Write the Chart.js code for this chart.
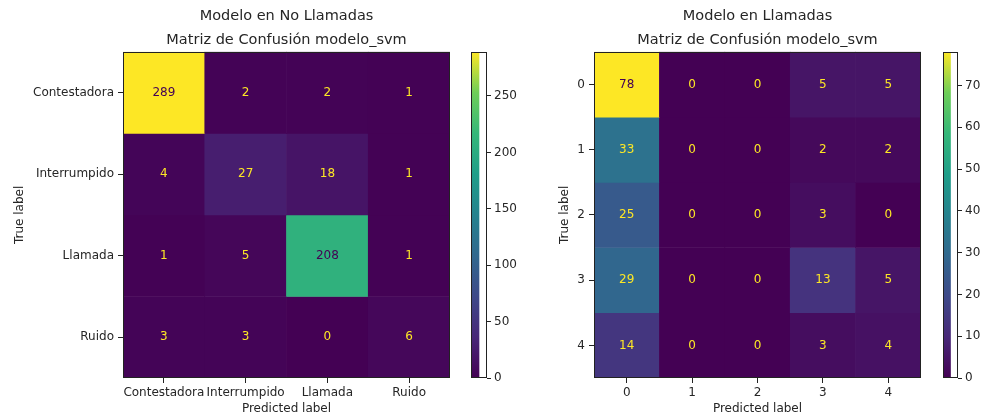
<!DOCTYPE html>
<html>
<head>
<meta charset="UTF-8">
<title>Matriz de Confusión</title>
<script src="https://cdn.jsdelivr.net/npm/chart.js"></script>
<style>
  html, body { margin: 0; padding: 0; background: #fff; }
  body { width: 984px; height: 416px; position: relative; overflow: hidden; }
  .box { position: absolute; top: 0; height: 416px; }
</style>
</head>
<body>
  <div class="box" style="left:0;width:460px"><canvas id="cmLeft"></canvas></div>
  <div class="box" style="left:460px;width:80px"><canvas id="cbLeft"></canvas></div>
  <div class="box" style="left:540px;width:390px"><canvas id="cmRight"></canvas></div>
  <div class="box" style="left:930px;width:54px"><canvas id="cbRight"></canvas></div>

<script>
// datos de las dos matrices
const clasesNoLlamadas = ['Contestadora', 'Interrumpido', 'Llamada', 'Ruido'];
const matrizNoLlamadas = [
  [289, 2, 2, 1],
  [4, 27, 18, 1],
  [1, 5, 208, 1],
  [3, 3, 0, 6]
];
const ticksBarraNoLlamadas = [0, 50, 100, 150, 200, 250];

const clasesLlamadas = ['0', '1', '2', '3', '4'];
const matrizLlamadas = [
  [78, 0, 0, 5, 5],
  [33, 0, 0, 2, 2],
  [25, 0, 0, 3, 0],
  [29, 0, 0, 13, 5],
  [14, 0, 0, 3, 4]
];
const ticksBarraLlamadas = [0, 10, 20, 30, 40, 50, 60, 70];

const FONT = 'DejaVu Sans';
const TXT = '#262626';

// mapa de color viridis
const viridis = ['#440154', '#482878', '#3e4989', '#31688e', '#26828e', '#1f9e89', '#35b779', '#6ece58', '#fde725'];
function hexRgb(h) { return [1, 3, 5].map(i => parseInt(h.substr(i, 2), 16)); }
function colorViridis(t) {
  t = Math.max(0, Math.min(1, t));
  const p = t * (viridis.length - 1);
  const i = Math.min(Math.floor(p), viridis.length - 2);
  const f = p - i;
  const a = hexRgb(viridis[i]), b = hexRgb(viridis[i + 1]);
  const c = a.map((v, k) => Math.round(v + (b[k] - v) * f));
  return 'rgb(' + c.join(',') + ')';
}

// borde negro alrededor del área
const bordePlugin = {
  id: 'borde',
  afterDraw(chart) {
    const a = chart.chartArea, ctx = chart.ctx;
    ctx.save();
    ctx.strokeStyle = '#222';
    ctx.lineWidth = 1;
    ctx.strokeRect(Math.round(a.left) + 0.5, Math.round(a.top) + 0.5,
      Math.round(a.right - a.left) - 1, Math.round(a.bottom - a.top) - 1);
    ctx.restore();
  }
};

// números dentro de las celdas
const numerosPlugin = {
  id: 'numeros',
  afterDatasetsDraw(chart) {
    const m = chart.config.options.matriz;
    if (!m) return;
    const max = Math.max(...m.flat()), min = Math.min(...m.flat());
    const umbral = (max + min) / 2;
    const ctx = chart.ctx;
    ctx.save();
    ctx.font = '12px "' + FONT + '"';
    ctx.textAlign = 'center';
    ctx.textBaseline = 'middle';
    m.forEach((fila, i) => {
      fila.forEach((v, j) => {
        ctx.fillStyle = v < umbral ? viridis[viridis.length - 1] : viridis[0];
        ctx.fillText(String(v), chart.scales.x.getPixelForValue(j), chart.scales.y.getPixelForValue(i));
      });
    });
    ctx.restore();
  }
};

function matriz(id, clases, m, titulo, anchoY, padDer, padTituloY) {
  const max = Math.max(...m.flat());
  const datasets = m.map((fila, i) => ({
    data: fila.map(() => [i - 0.5, i + 0.5]),
    backgroundColor: fila.map(v => colorViridis(v / max)),
    borderWidth: 0,
    barPercentage: 1,
    categoryPercentage: 1
  }));
  return new Chart(document.getElementById(id), {
    type: 'bar',
    data: { labels: clases, datasets },
    options: {
      responsive: true,
      maintainAspectRatio: false,
      animation: false,
      matriz: m,
      layout: { padding: { right: padDer } },
      plugins: {
        legend: { display: false },
        tooltip: { enabled: false },
        title: {
          display: true,
          text: titulo,
          fullSize: false,
          color: TXT,
          font: { family: FONT, size: 14.5, weight: 'normal', lineHeight: 1.65 },
          padding: { top: 4, bottom: 0 }
        }
      },
      scales: {
        x: {
          stacked: true,
          offset: true,
          grid: { offset: false, drawOnChartArea: false, drawTicks: true, tickLength: 5, color: '#222' },
          border: { display: false },
          ticks: { color: TXT, font: { family: FONT, size: 12 }, padding: 3, maxRotation: 0, minRotation: 0, autoSkip: false },
          title: { display: true, text: 'Predicted label', color: TXT, font: { family: FONT, size: 12 }, padding: { top: 0, bottom: 0 } },
          afterFit(s) { s.height = 38; }
        },
        y: {
          type: 'linear',
          reverse: true,
          min: -0.5,
          max: clases.length - 0.5,
          afterBuildTicks(s) { s.ticks = clases.map((_, i) => ({ value: i })); },
          grid: { drawOnChartArea: false, drawTicks: true, tickLength: 5, color: '#222' },
          border: { display: false },
          ticks: { color: TXT, font: { family: FONT, size: 12 }, padding: 4, callback: v => clases[v] },
          title: { display: true, text: 'True label', color: TXT, font: { family: FONT, size: 12 }, padding: { top: padTituloY, bottom: 0 } },
          afterFit(s) { s.width = anchoY; }
        }
      }
    },
    plugins: [numerosPlugin, bordePlugin]
  });
}

function barraColor(id, m, ticks, padIzq, anchoY) {
  const max = Math.max(...m.flat());
  return new Chart(document.getElementById(id), {
    type: 'bar',
    data: {
      labels: [''],
      datasets: [{
        data: [[0, max]],
        borderWidth: 0,
        barPercentage: 1,
        categoryPercentage: 1,
        backgroundColor(c) {
          const a = c.chart.chartArea;
          if (!a) return viridis[0];
          const g = c.chart.ctx.createLinearGradient(0, a.bottom, 0, a.top);
          viridis.forEach((col, k) => g.addColorStop(k / (viridis.length - 1), col));
          return g;
        }
      }]
    },
    options: {
      responsive: true,
      maintainAspectRatio: false,
      animation: false,
      layout: { padding: { top: 52, bottom: 38, left: padIzq } },
      plugins: { legend: { display: false }, tooltip: { enabled: false } },
      scales: {
        x: { display: false, offset: false },
        y: {
          position: 'right',
          min: 0,
          max: max,
          afterBuildTicks(s) { s.ticks = ticks.map(v => ({ value: v })); },
          grid: { drawOnChartArea: false, drawTicks: true, tickLength: 4, color: '#222' },
          border: { display: false },
          ticks: { color: TXT, font: { family: FONT, size: 12 }, padding: 3 },
          afterFit(s) { s.width = anchoY; }
        }
      }
    },
    plugins: [bordePlugin]
  });
}

matriz('cmLeft', clasesNoLlamadas, matrizNoLlamadas,
  ['Modelo en No Llamadas', 'Matriz de Confusión modelo_svm'], 123, 10, 13);
barraColor('cbLeft', matrizNoLlamadas, ticksBarraNoLlamadas, 11, 53);
matriz('cmRight', clasesLlamadas, matrizLlamadas,
  ['Modelo en Llamadas', 'Matriz de Confusión modelo_svm'], 54, 9, 18);
barraColor('cbRight', matrizLlamadas, ticksBarraLlamadas, 13, 26);
</script>
</body>
</html>
